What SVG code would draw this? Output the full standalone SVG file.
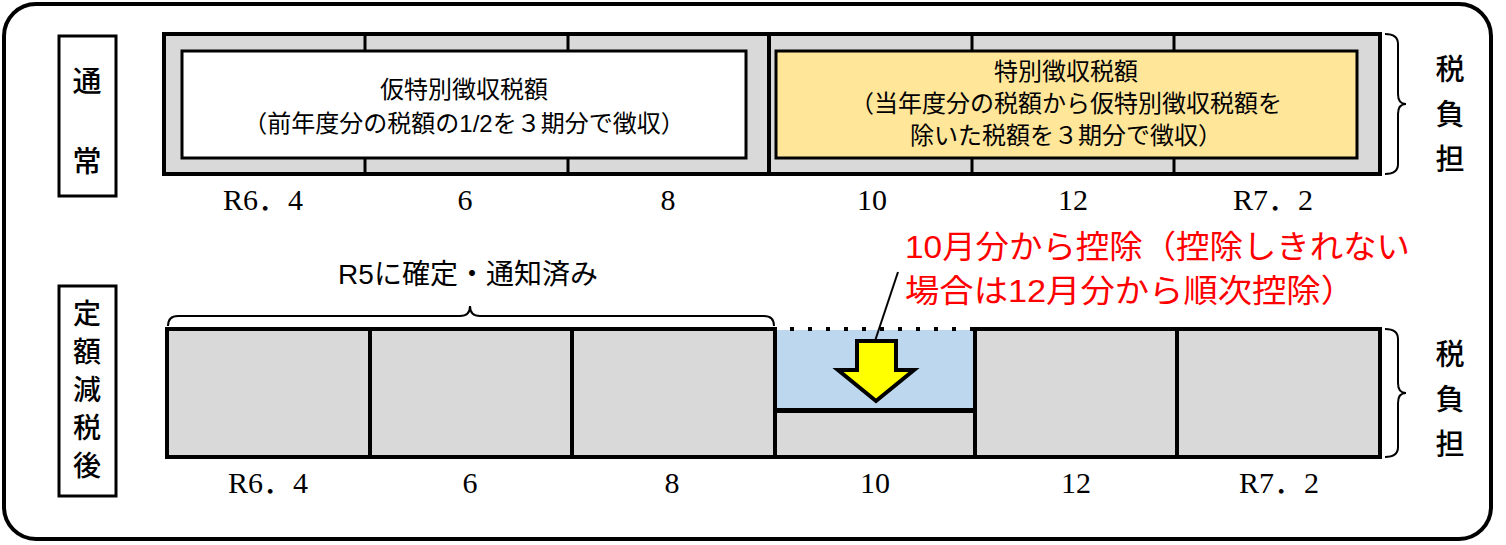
<svg xmlns="http://www.w3.org/2000/svg" width="1506" height="545" viewBox="0 0 1506 545">
<style>
.s{font-family:"Liberation Sans","Noto Sans CJK JP",sans-serif}
.m{font-family:"Liberation Serif","Noto Sans CJK JP",serif;font-size:30px;text-anchor:middle}
.bx{fill:#d9d9d9;stroke:#000;stroke-width:4}
.lbl{font-family:"Noto Sans CJK JP",sans-serif;font-size:29px;text-anchor:middle;font-weight:500}
.lv{font-family:"Noto Sans CJK JP",sans-serif;font-size:28px;text-anchor:middle;font-weight:500}
</style>
<rect x="4" y="4" width="1487" height="535" rx="32" fill="#fff" stroke="#000" stroke-width="4"/>
<g id="label-normal"><rect x="59" y="36" width="57" height="160" fill="#fff" stroke="#000" stroke-width="3"/>
<text class="lbl" x="87" y="92">通</text><text class="lbl" x="87" y="172">常</text></g>
<g id="label-after"><rect x="59" y="286" width="57" height="210" fill="#fff" stroke="#000" stroke-width="3"/>
<text class="lv" x="87" y="324">定</text><text class="lv" x="87" y="362">額</text><text class="lv" x="87" y="400">減</text><text class="lv" x="87" y="438">税</text><text class="lv" x="87" y="476">後</text></g>
<g id="top-bar">
<rect class="bx" x="164" y="34" width="1216" height="140"/>
<g stroke="#000" stroke-width="3"><line x1="365" y1="34" x2="365" y2="174"/><line x1="568" y1="34" x2="568" y2="174"/><line x1="972" y1="34" x2="972" y2="174"/><line x1="1174" y1="34" x2="1174" y2="174"/></g>
<line x1="769" y1="34" x2="769" y2="174" stroke="#000" stroke-width="4"/>
</g>
<g id="provisional"><rect x="182" y="51" width="564" height="107" fill="#fff" stroke="#000" stroke-width="3"/>
<text class="s" x="464" y="98" font-size="24" text-anchor="middle">仮特別徴収税額</text>
<text class="s" x="464" y="132" font-size="24" text-anchor="middle">（前年度分の税額の1/2を３期分で徴収）</text></g>
<g id="special"><rect x="776" y="51" width="581" height="107" fill="#ffe699" stroke="#000" stroke-width="3"/>
<text class="s" x="1066" y="80" font-size="24" text-anchor="middle">特別徴収税額</text>
<text class="s" x="1066" y="112" font-size="24" text-anchor="middle">（当年度分の税額から仮特別徴収税額を</text>
<text class="s" x="1066" y="144" font-size="24" text-anchor="middle">除いた税額を３期分で徴収）</text></g>
<g id="top-months"><text class="m" x="263" y="210">R6．4</text><text class="m" x="465" y="210">6</text><text class="m" x="668" y="210">8</text><text class="m" x="872" y="210">10</text><text class="m" x="1073" y="210">12</text><text class="m" x="1273" y="210">R7．2</text></g>
<g id="burden-top"><path d="M1385 34 Q1398 34 1398 44 L1398 94 Q1398 104 1406 104 Q1398 104 1398 114 L1398 164 Q1398 174 1385 174" fill="none" stroke="#000" stroke-width="2"/>
<text class="lbl" x="1450" y="80">税</text><text class="lbl" x="1450" y="125">負</text><text class="lbl" x="1450" y="170">担</text></g>
<g id="bottom-bar">
<rect class="bx" x="167" y="329" width="203" height="128"/>
<rect class="bx" x="370" y="329" width="202" height="128"/>
<rect class="bx" x="572" y="329" width="203" height="128"/>
<rect class="bx" x="775" y="411" width="200" height="46"/>
<rect class="bx" x="975" y="329" width="202" height="128"/>
<rect class="bx" x="1177" y="329" width="203" height="128"/>
</g>
<g id="deduction"><rect x="776" y="330" width="198" height="80" fill="#bdd7ee"/>
<line x1="775" y1="329" x2="775" y2="411" stroke="#000" stroke-width="4"/><line x1="975" y1="329" x2="975" y2="411" stroke="#000" stroke-width="4"/>
<line x1="775" y1="410" x2="975" y2="410" stroke="#000" stroke-width="4"/>
<line x1="790" y1="329" x2="975" y2="329" stroke="#000" stroke-width="4" stroke-dasharray="4,14"/>
<path d="M857 341 H896 V370 H914 L876 401 L838 370 H857 Z" fill="#ffff00" stroke="#000" stroke-width="4"/></g>
<g id="connectors"><line x1="898" y1="272" x2="875" y2="341" stroke="#000" stroke-width="2"/>
<path d="M168 326 Q168 316 178 316 L460 316 Q470 316 470 306 Q470 316 480 316 L764 316 Q774 316 774 326" fill="none" stroke="#000" stroke-width="2"/></g>
<g id="notified"><text class="s" x="468" y="284" font-size="28" text-anchor="middle">R5に確定・通知済み</text></g>
<g id="note"><text class="s" x="905" y="258" font-size="32" fill="#ff0000" textLength="505" lengthAdjust="spacingAndGlyphs">10月分から控除（控除しきれない</text>
<text class="s" x="905" y="302" font-size="32" fill="#ff0000" textLength="450" lengthAdjust="spacingAndGlyphs">場合は12月分から順次控除）</text></g>
<g id="bottom-months"><text class="m" x="268" y="493">R6．4</text><text class="m" x="470" y="493">6</text><text class="m" x="672" y="493">8</text><text class="m" x="875" y="493">10</text><text class="m" x="1076" y="493">12</text><text class="m" x="1279" y="493">R7．2</text></g>
<g id="burden-bottom"><path d="M1385 329 Q1398 329 1398 339 L1398 383 Q1398 393 1406 393 Q1398 393 1398 403 L1398 447 Q1398 457 1385 457" fill="none" stroke="#000" stroke-width="2"/>
<text class="lbl" x="1450" y="365">税</text><text class="lbl" x="1450" y="410">負</text><text class="lbl" x="1450" y="455">担</text></g>
</svg>
